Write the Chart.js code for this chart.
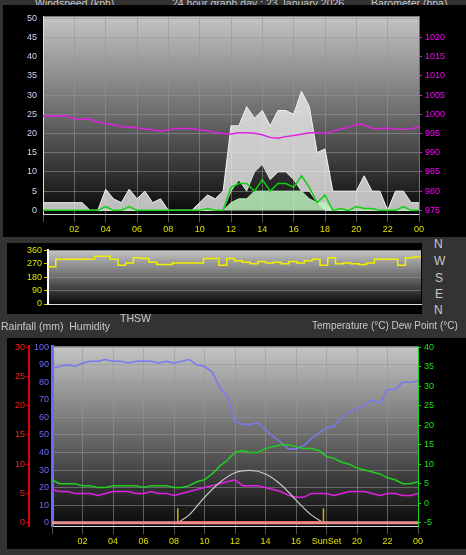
<!DOCTYPE html>
<html><head><meta charset="utf-8">
<script src="https://cdn.jsdelivr.net/npm/chart.js@4.4.1/dist/chart.umd.min.js"></script>
<style>
body{margin:0;background:#333;width:466px;height:555px;overflow:hidden;font-family:"Liberation Sans",Arial,sans-serif;}
.c{position:absolute;background:#000;}
.t{position:absolute;color:#c8c8c8;font-size:10.5px;white-space:nowrap;}
</style></head><body>
<div class="t" style="left:35px;top:-3px">Windspeed (kph)</div>
<div class="t" style="left:172px;top:-3px">24 hour graph day : 23 January 2026</div>
<div class="t" style="left:371px;top:-3px">Barometer (hpa)</div>
<div class="c" style="left:3px;top:5px;width:463px;height:232px"><canvas id="c1" width="463" height="232"></canvas></div>
<div class="c" style="left:7px;top:243px;width:415px;height:71px"><canvas id="c2" width="415" height="71"></canvas></div>
<div class="t" style="left:434px;top:237px;font-size:12px">N</div>
<div class="t" style="left:434px;top:254px;font-size:12px">W</div>
<div class="t" style="left:435px;top:271px;font-size:12px">S</div>
<div class="t" style="left:435px;top:287px;font-size:12px">E</div>
<div class="t" style="left:434px;top:303px;font-size:12px">N</div>
<div class="t" style="left:120px;top:312px">THSW</div>
<div class="t" style="left:1px;top:320px">Rainfall (mm)&nbsp; Humidity</div>
<div class="t" style="left:312px;top:320px;font-size:10px">Temperature (°C) Dew Point (°C)</div>
<div class="c" style="left:7px;top:338px;width:459px;height:211px"><canvas id="c3" width="459" height="211"></canvas></div>
<script>
// half-hour time categories 0..24
const hours = Array.from({length:49},(_,i)=>i/2);
const gustHigh = [2,2,2,2,2,2,0,0,5.5,3,2,5.5,3,5,2,3,0,0,0,0,2,4,3,5,22,22,27,24,26,22,26,26,25,31,27,15,16,5,5,5,5,9,5,5,0,5,5,2,2];
const gustLow  = [0,0,0,0,0,0,0,0,0,0,0,0,0,0,0,0,0,0,0,0,0,0,0,0,5,8,5,10,12,8,10,10,8,5,5,2,0,0,0,0,0,0,0,0,0,0,0,0,0];
const windAvg  = [0,0,0,0,0,0,0,0,1,0,0,1,0,0,0,0,0,0,0,0,0,0.5,0,0,6,7,7,5,8,5,7,7,6,9,6,2,4,0,0.5,0,1,0.5,0.5,0,0,0,1,0,0];
const windLight= [0,0,0,0,0,0,0,0,0,0,0,0,0,0,0,0,0,0,0,0,0,0,0,0,2,3,3,5,5,5,5,5,5,5,3,2,2,0,0,0,0,0,0,0,0,0,0,0,0];
const baro = [999.5,999.5,999.5,999.6,998.8,998.7,998.7,998,997.6,997.3,996.8,996.7,996.5,996.2,996,995.6,996,996.3,996.3,996.3,996,995.7,995.3,995,994.9,995.2,995.2,995.1,994.7,994,993.8,994.2,994.5,994.8,995.2,995.2,995,995.6,996.2,996.6,997.5,997.3,996.4,996.3,996.4,996.2,996.1,996.2,996.8];
const windDir = [250,300,300,300,300,300,320,320,300,260,275,310,305,280,265,265,275,275,275,275,305,305,260,305,290,280,270,285,275,280,270,285,275,290,300,260,310,270,275,270,265,275,300,300,300,260,310,315,320];
const humidity = [88,89,90,89,91,92,92,93,92,92,91,92,92,92,91,92,91,92,93,90,89,86,77,72,58,56,56,57,53,49,46,42,42,44,48,51,54,55,60,63,65,67,70,68,76,76,80,80,81];
const temperature = [6,5,5,5,4.5,4.5,4,4,4.5,4.5,4.5,4.5,4,4.5,4.5,4.5,4,4,4.5,5.5,6,7.5,9.5,11,13,13.5,13,13,14,14.5,15,15,14.5,14,14,13.5,12,11.5,10.5,10,9,8.5,8,7.5,6.5,6,5,5,5.5];
const dewPoint = [3.5,3,3,2.5,2.5,2.5,2,2.5,3,3,3,2.5,2.5,3,2.5,2.5,2,2.5,3,3.5,4,4.5,5,5.5,6,4.5,4.5,4.5,4,3.5,3,2,1.5,1.5,2.5,2.5,2.5,2,2.5,3,3,3,2.5,2,2.5,2.5,2,2,2.5];
const thswTimes = [8.25,9,10,11,12,13,14,15,16,17,17.8];
const thswValues = [-5,-3,1.5,5.3,7.8,8.4,7.5,4.8,0.8,-3,-5];
const sunRise = 8.25, sunSet = 17.8;
const rainTimes=[0,24], rainValues=[0,0];
const windTicks=[0,5,10,15,20,25,30,35,40,45,50];
const baroTicks=[975,980,985,990,995,1000,1005,1010,1015,1020];
const dirTicks=[0,90,180,270,360];
const humTicks=[0,10,20,30,40,50,60,70,80,90,100];
const rainTicks=[0,5,10,15,20,25,30];
const tempTicks=[-5,0,5,10,15,20,25,30,35,40];

const pts=(xs,ys)=>xs.map((x,i)=>({x,y:ys[i]}));
const setT=t=>function(s){s.ticks=t.map(v=>({value:v}));};
const grad={id:'grad',beforeDraw(c){const a=c.chartArea,x=c.ctx;const g=x.createLinearGradient(0,a.top,0,a.bottom);g.addColorStop(0,'#c4c4c4');g.addColorStop(0.5,'#6a6a6a');g.addColorStop(1,'#080808');x.save();x.fillStyle=g;x.fillRect(a.left,a.top,a.right-a.left,a.bottom-a.top);x.restore();}};
const F={family:'"Liberation Sans",Arial',size:9};
const gridC={color:'rgba(150,150,150,0.55)',borderDash:[1,2],lineWidth:1};
const fitW=w=>function(s){s.width=w;};
const plain=v=>String(v);
const xTicks=(lab)=>({type:'linear',min:0,max:24,grid:gridC,border:{color:'#ddd'},ticks:{stepSize:2,color:'#e0e000',font:F,autoSkip:false,maxRotation:0,padding:2,callback:v=>v===0?'':(lab&&lab[v])||String(v%24).padStart(2,'0')}});
Chart.defaults.animation=false;Chart.defaults.devicePixelRatio=1;
const base={responsive:false,plugins:{legend:{display:false},tooltip:{enabled:false}},elements:{point:{radius:0}}};

new Chart(c1,{type:'line',plugins:[grad],data:{datasets:[
 {data:pts(hours,baro),borderColor:'#e020e0',borderWidth:1.5,yAxisID:'yb'},
 {data:pts(hours,windAvg),borderColor:'#10d010',borderWidth:1.5,yAxisID:'y'},
 {data:pts(hours,windLight),borderColor:'#b8f0b8',backgroundColor:'rgba(190,245,190,0.85)',fill:'origin',borderWidth:1,yAxisID:'y'},
 {data:pts(hours,gustLow),borderColor:'rgba(240,240,240,0.8)',borderWidth:1,yAxisID:'y'},
 {data:pts(hours,gustHigh),borderColor:'#f4f4f4',backgroundColor:'rgba(240,240,240,0.78)',fill:'-1',borderWidth:1,yAxisID:'y'}
]},options:{...base,layout:{padding:{top:1}},scales:{
 x:xTicks(),
 y:{min:-1,max:50.5,afterFit:fitW(40),afterBuildTicks:setT(windTicks),grid:{...gridC,drawTicks:false},border:{color:'#ddd'},ticks:{autoSkip:false,color:'#c8d8ff',font:F,padding:6,callback:plain}},
 yb:{position:'right',min:974,max:1025.5,afterFit:fitW(47),afterBuildTicks:setT(baroTicks),grid:{drawOnChartArea:false,color:'#e020e0',tickLength:3},border:{color:'#e020e0',dash:[1,2]},ticks:{autoSkip:false,color:'#ff00ff',font:F,callback:plain}}
}}});

new Chart(c2,{type:'line',plugins:[grad],data:{datasets:[
 {data:pts(hours,windDir),borderColor:'#f0f000',borderWidth:1.5,stepped:true}
]},options:{...base,layout:{padding:{top:3,bottom:2,right:1}},scales:{
 x:{type:'linear',min:0,max:24,display:true,grid:{display:false},border:{color:'#ddd'},ticks:{display:false}},
 y:{min:0,max:360,afterFit:fitW(41),afterBuildTicks:setT(dirTicks),grid:{...gridC,drawTicks:true,tickLength:4,tickColor:'#c8c800'},border:{color:'#fff',width:2},ticks:{autoSkip:false,color:'#e0e000',font:F,padding:2,callback:plain}}
}}});

new Chart(c3,{type:'line',plugins:[grad],data:{datasets:[
 {data:pts(rainTimes,rainValues),borderColor:'#e89090',borderWidth:3,yAxisID:'yr'},
 {data:[{x:sunRise,y:0},{x:sunSet,y:0}],borderColor:'#ff0000',borderWidth:3,yAxisID:'yr'},
 {data:[{x:sunRise,y:-5},{x:sunRise,y:-1.3}],borderColor:'#c8b400',borderWidth:1.5,yAxisID:'yt'},
 {data:[{x:sunSet,y:-5},{x:sunSet,y:-1.3}],borderColor:'#c8b400',borderWidth:1.5,yAxisID:'yt'},
 {data:pts(thswTimes,thswValues),borderColor:'#c8c8c8',borderWidth:1.2,cubicInterpolationMode:'monotone',yAxisID:'yt'},
 {data:pts(hours,dewPoint),borderColor:'#e020e0',borderWidth:1.5,yAxisID:'yt'},
 {data:pts(hours,temperature),borderColor:'#20d020',borderWidth:1.5,yAxisID:'yt'},
 {data:pts(hours,humidity),borderColor:'#7878f0',borderWidth:1.5,yAxisID:'yh'}
]},options:{...base,layout:{padding:{top:0}},scales:{
 x:xTicks({18:'SunSet'}),
 yh:{position:'left',min:-2,max:100.5,afterFit:fitW(23),afterBuildTicks:setT(humTicks),grid:{...gridC,drawTicks:false},border:{color:'#6a6aff',width:3},ticks:{autoSkip:false,color:'#6a6aff',font:F,padding:3,callback:plain}},
 yr:{position:'left',min:-0.6,max:30.15,afterFit:fitW(22),afterBuildTicks:setT(rainTicks),grid:{drawOnChartArea:false,color:'#e00000',tickLength:3},border:{color:'#e00000',width:2},ticks:{autoSkip:false,color:'#ff2020',font:F,padding:1,callback:plain}},
 yt:{position:'right',min:-5.9,max:40.2,afterFit:fitW(48),afterBuildTicks:setT(tempTicks),grid:{drawOnChartArea:false,color:'#20d020',tickLength:3},border:{color:'#20d020',dash:[1,2]},ticks:{autoSkip:false,color:'#20e020',font:F,callback:plain}}
}}});
</script></body></html>
